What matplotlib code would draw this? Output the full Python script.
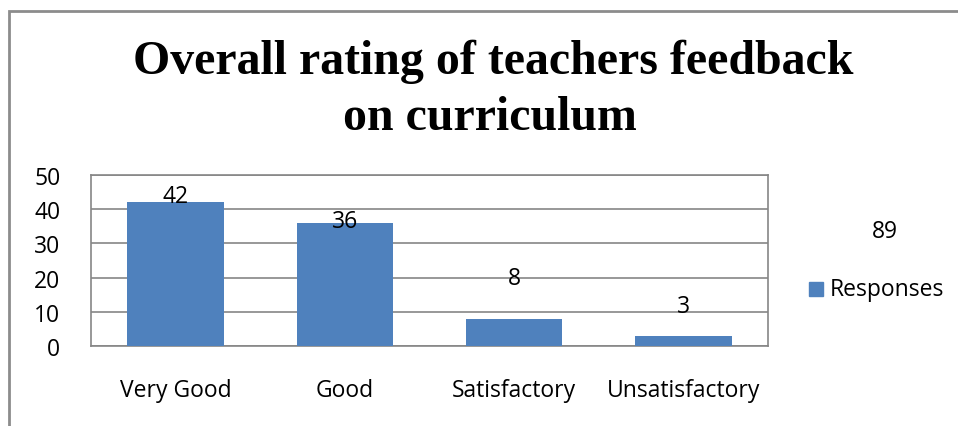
import matplotlib.pyplot as plt
from matplotlib.patches import Rectangle

categories = ["Very Good", "Good", "Satisfactory", "Unsatisfactory"]
responses = [42, 36, 8, 3]
total_label = "89"
yticks = [0, 10, 20, 30, 40, 50]

# label placement offsets above the bar tops (as drawn in the original)
label_offsets = [1.8, 0.6, 12.0, 8.8]

W, H = 958, 427
fig = plt.figure(figsize=(W / 100, H / 100), dpi=100)
fig.patch.set_facecolor("white")

# outer chart frame
fig.patches.append(Rectangle((9 / W, -0.1), 1.2, 1 - 12 / H + 0.1,
                             transform=fig.transFigure, fill=False,
                             edgecolor="#8c8c8c", linewidth=2))

ax = fig.add_axes([91 / W, 1 - 347 / H, (768 - 91) / W, (347 - 176) / H])
x = range(len(categories))
ax.bar(x, responses, width=0.57, color="#4F81BD", zorder=3)
for xi, v, off in zip(x, responses, label_offsets):
    ax.text(xi, v + off, str(v), ha="center", va="center", fontsize=16.5,
            family="Open Sans", zorder=4)

ax.set_xlim(-0.5, len(categories) - 0.5)
ax.set_ylim(0, 50)
ax.set_yticks(yticks)
ax.set_yticklabels([str(t) for t in yticks], fontsize=16.5, family="Open Sans")
ax.set_xticks(list(x))
ax.set_xticklabels(categories, fontsize=16.5, family="Open Sans")
ax.tick_params(axis="x", length=0, pad=23)
ax.tick_params(axis="y", length=0, pad=22)
ax.yaxis.grid(True, color="#868686", linewidth=1.2, zorder=0)
for s in ax.spines.values():
    s.set_color("#868686")
    s.set_linewidth(1.2)

fig.text(493 / W, 1 - 62 / H, "Overall rating of teachers feedback",
         ha="center", va="center", fontsize=34.5, fontweight="bold",
         family="Liberation Serif")
fig.text(490 / W, 1 - 118 / H, "on curriculum",
         ha="center", va="center", fontsize=34.5, fontweight="bold",
         family="Liberation Serif")

fig.text(885 / W, 1 - 232 / H, total_label, ha="center", va="center",
         fontsize=16.5, family="Open Sans")
fig.patches.append(Rectangle((809 / W, 1 - 297 / H), 14 / W, 14 / H,
                             transform=fig.transFigure, color="#4F81BD"))
fig.text(830 / W, 1 - 290 / H, "Responses", ha="left", va="center",
         fontsize=16.5, family="Open Sans")

fig.savefig("out.png", dpi=100)
